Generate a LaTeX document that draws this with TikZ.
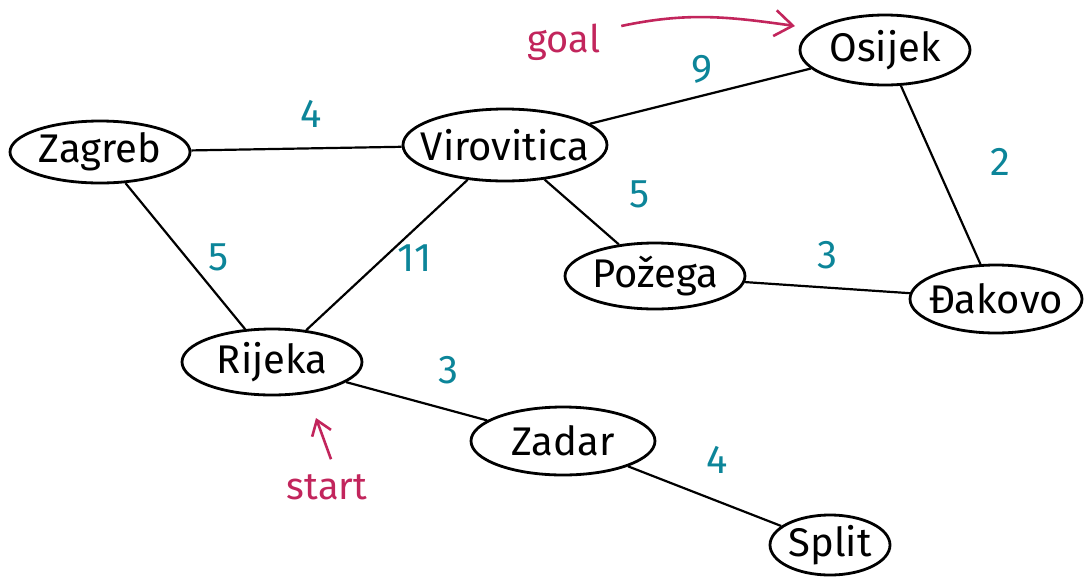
\documentclass[tikz,border=0pt]{standalone}
\usepackage{fontspec}
\setmainfont{Fira Sans}
\usetikzlibrary{shapes.geometric, arrows.meta, calc}
\definecolor{wtcol}{HTML}{0C8599}
\definecolor{notecol}{HTML}{C2255C}
\tikzset{
	city/.style={draw, ellipse, line width=1.4pt, inner xsep=-10pt, inner ysep=0pt, font=\fontsize{20}{22}\selectfont},
	road/.style={line width=1.1pt},
	wt/.style={text=wtcol, font=\fontsize{20}{22}\selectfont},
	note/.style={text=notecol, font=\fontsize{19}{21}\selectfont},
	pointer/.style={-{Straight Barb[length=9pt, width=13pt]}, notecol, line width=1.3pt},
}
\begin{document}
\begin{tikzpicture}[x=0.5pt, y=-0.5pt]
	\useasboundingbox (0,0) rectangle (1088,579);
	\node[city, minimum width=90pt, minimum height=31pt] (zg) at (100, 152) {Zagreb};
	\node[city, minimum width=102pt, minimum height=36pt] (vi) at (505, 145) {Virovitica};
	\node[city, minimum width=85pt, minimum height=35pt] (os) at (885, 50) {Osijek};
	\node[city, minimum width=90pt, minimum height=33pt] (pz) at (655, 276) {Požega};
	\node[city, minimum width=86pt, minimum height=34pt] (dj) at (996, 299) {Đakovo};
	\node[city, minimum width=90pt, minimum height=33pt] (ri) at (272, 362) {Rijeka};
	\node[city, minimum width=92pt, minimum height=34pt] (zd) at (563, 441) {Zadar};
	\node[city, minimum width=60pt, minimum height=30pt] (st) at (830, 545) {Split};
	% roads
	\draw[road] (zg) -- node[wt, above=6.5pt, xshift=7.5pt] {4} (vi);
	\draw[road] (vi) -- node[wt, above=2.5pt, xshift=1pt] {9} (os);
	\draw[road] (os) -- node[wt, right=21pt, yshift=6.5pt] {2} (dj);
	\draw[road] (vi) -- node[wt, right=20pt, yshift=9pt] {5} (pz);
	\draw[road] (pz) -- node[wt, above=5.5pt] {3} (dj);
	\draw[road] (zg) -- node[wt, right=7.5pt, yshift=-0.5pt] {5} (ri);
	\draw[road] (vi) -- node[wt, right=1.5pt, yshift=-1.5pt] {11} (ri);
	\draw[road] (ri) -- node[wt, above=5pt, xshift=16pt] {3} (zd);
	\draw[road] (zd) -- node[wt, above=7.5pt, xshift=6pt] {4} (st);
	% markers
	\node[note] (goal) at (564, 42) {goal};
	\coordinate (goalend) at (795, 26);
	\draw[pointer] ($(goal.east)+(14,-16)$) to[out=12, in=172] (goalend);
	\node[note] (start) at (327, 487) {start};
	\draw[pointer, -{Straight Barb[length=7pt, width=10pt]}] ($(start.north)+(4,-8)$) -- (316, 418);
\end{tikzpicture}
\end{document}
